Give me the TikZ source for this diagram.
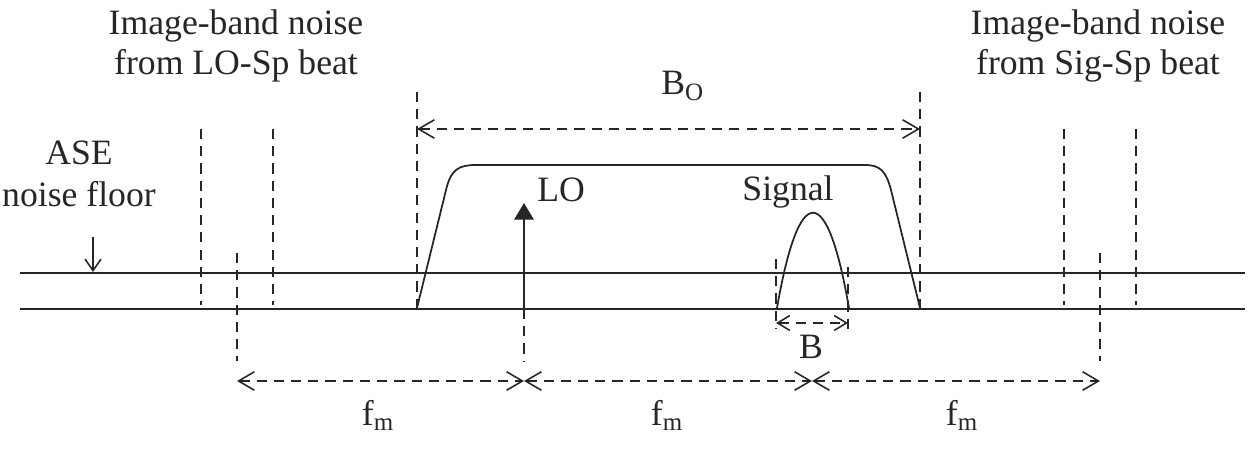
\documentclass[tikz,border=0pt]{standalone}
\usepackage{fontspec}
\setmainfont{Liberation Serif}
\usetikzlibrary{arrows.meta}
\begin{document}
\begin{tikzpicture}[x=0.02cm,y=-0.02cm,
  ink/.style={draw=black!85},
  floorline/.style={ink, line width=1.2pt},
  guideline/.style={ink, line width=0.9pt, dash pattern=on 5.8pt off 4pt},
  barb/.tip={Straight Barb[length=9pt,width=10.5pt,line width=0.9pt]},
  smallbarb/.tip={Straight Barb[length=7pt,width=8.5pt,line width=0.9pt]},
  dimarrow/.style={guideline, barb-barb},
  lbl/.style={font=\fontsize{20.3}{24}\selectfont, text=black!85, inner sep=0pt, anchor=base},
]
\useasboundingbox (0,0) rectangle (1252,456);

% noise floor and baseline of the spectrum
\coordinate (floorL) at (20,273);
\coordinate (floorR) at (1245,273);
\coordinate (baseL) at (20,309);
\coordinate (baseR) at (1245,309);
\draw[floorline] (floorL) -- (floorR);
\draw[floorline] (baseL) -- (baseR);

% text labels
\node[lbl] (imgL1) at (236,35) {Image-band noise};
\node[lbl] (imgL2) at (236,75) {from LO-Sp beat};
\node[lbl] (imgR1) at (1098,35) {Image-band noise};
\node[lbl] (imgR2) at (1098,75) {from Sig-Sp beat};
\node[lbl] (ase1) at (79,165) {ASE};
\node[lbl] (ase2) at (79,207) {noise floor};
\node[lbl, anchor=base west] (bo) at (661,95) {B\textsubscript{O}};
\node[lbl, anchor=base west] (lo) at (537,202) {LO};
\node[lbl] (sig) at (788,200) {Signal};
\node[lbl] (bw) at (811,358) {B};
\node[lbl] (fm1) at (378,425) {f\textsubscript{m}};
\node[lbl] (fm2) at (667,425) {f\textsubscript{m}};
\node[lbl] (fm3) at (962,425) {f\textsubscript{m}};

% pointer to the noise floor
\coordinate (aseTop) at (93,237);
\coordinate (aseTip) at (93,272);
\draw[ink, line width=0.9pt, -{Straight Barb[length=6.5pt,width=9pt,line width=0.9pt]}] (aseTop) -- (aseTip);

% optical filter passband
\coordinate (filtBL) at (417,308);
\coordinate (filtBR) at (920,308);
\draw[ink, line width=1pt, line join=round]
  (filtBL) -- (446,190) .. controls (451,169) and (459,165) .. (476,165)
  -- (865,165) .. controls (880,165) and (886,171) .. (891,190) -- (filtBR);

% optical bandwidth
\coordinate (boLtop) at (417,92);
\coordinate (boRtop) at (920,92);
\coordinate (boLarr) at (417,129);
\coordinate (boRarr) at (920,129);
\draw[guideline] (boLtop) -- (filtBL);
\draw[guideline] (boRtop) -- (filtBR);
\draw[dimarrow] (boLarr) -- (boRarr);

% local oscillator line
\coordinate (loBase) at (524,309);
\coordinate (loTip) at (524,203);
\coordinate (loLow) at (524,362);
\draw[ink, line width=1.4pt, -{Triangle[length=9.5pt,width=11pt]}] (loBase) -- (loTip);
\draw[guideline] (loBase) -- (loLow);

% signal spectrum and its bandwidth
\coordinate (sigL) at (777,308);
\coordinate (sigR) at (849,308);
\draw[ink, line width=1pt] (sigL) .. controls (799,181) and (827,181) .. (sigR);
\coordinate (bwLtop) at (776,259);
\coordinate (bwLlow) at (776,329);
\coordinate (bwRtop) at (848,267);
\coordinate (bwRlow) at (848,329);
\coordinate (bwLarr) at (776,323);
\coordinate (bwRarr) at (848,323);
\draw[guideline] (bwLtop) -- (bwLlow);
\draw[guideline] (bwRtop) -- (bwRlow);
\draw[guideline, smallbarb-smallbarb] (bwLarr) -- (bwRarr);

% image band from the LO-spontaneous beat
\coordinate (imLa) at (201,129);
\coordinate (imLaLow) at (201,305);
\coordinate (imLb) at (273,129);
\coordinate (imLbLow) at (273,305);
\coordinate (imLc) at (237,253);
\coordinate (imLcLow) at (237,361);
\draw[guideline] (imLa) -- (imLaLow);
\draw[guideline] (imLb) -- (imLbLow);
\draw[guideline] (imLc) -- (imLcLow);

% image band from the signal-spontaneous beat
\coordinate (imRa) at (1064,129);
\coordinate (imRaLow) at (1064,305);
\coordinate (imRb) at (1136,129);
\coordinate (imRbLow) at (1136,305);
\coordinate (imRc) at (1100,253);
\coordinate (imRcLow) at (1100,361);
\draw[guideline] (imRa) -- (imRaLow);
\draw[guideline] (imRb) -- (imRbLow);
\draw[guideline] (imRc) -- (imRcLow);

% modulation frequency spacings
\coordinate (fmA) at (237,381);
\coordinate (fmB) at (524,381);
\coordinate (fmC) at (812,381);
\coordinate (fmD) at (1100,381);
\draw[dimarrow] (fmA) -- (fmB);
\draw[dimarrow] (fmB) -- (fmC);
\draw[dimarrow] (fmC) -- (fmD);
\end{tikzpicture}
\end{document}
